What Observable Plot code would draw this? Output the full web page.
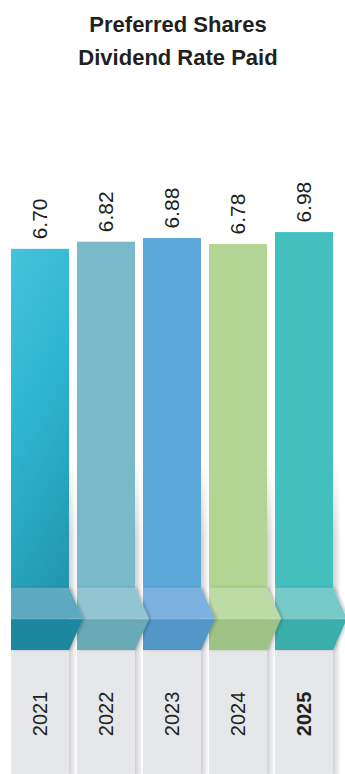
<!DOCTYPE html>
<html>
<head>
<meta charset="utf-8">
<script src="https://cdn.jsdelivr.net/npm/d3@7"></script>
<script src="https://cdn.jsdelivr.net/npm/@observablehq/plot@0.6"></script>
<style>
  body { margin: 0; background: #fff; width: 345px; overflow: hidden; }
  #title {
    font: bold 22px "Liberation Sans", Arial, sans-serif;
    color: #231f20;
    line-height: 33px;
    text-align: center;
    padding: 8px 0 0 11px;
  }
  #chart svg { display: block; }
</style>
</head>
<body>
<div id="title">Preferred Shares<br>Dividend Rate Paid</div>
<div id="chart"></div>
<script>
// Dividend rate paid on preferred shares, by year (%)
const years = ["2021", "2022", "2023", "2024", "2025"];
const rates = [6.70, 6.82, 6.88, 6.78, 6.98];
const highlightYear = "2025";

// Per-year palette: bar face, upper fold, lower fold
const barColors = ["url(#bar2021)", "#7ab9c9", "#5ca8da", "#b2d593", "#43c0bd"];
const foldLight = ["#5ba9c0", "#92c5d2", "#7bb1e0", "#bddba4", "#75c9c6"];
const foldDark  = ["#1f879e", "#6aa9b6", "#5297c9", "#9ec284", "#3aafac"];

const rows = years.map((year, i) => ({year, rate: rates[i], i}));

// Decorative geometry, in rate units below/above the baseline
const LABEL_DEPTH = 2.07;   // year panels under the bars
const FOLD_MID = 0.52;      // chevron point
const FOLD_TOP = 1.04;      // top of the folded ribbon
const SHADOW_TOP = 3.2;     // where the cast shadow beside each bar begins
const TIP = 14;             // chevron reach past the bar edge, px

const font = '"Liberation Sans", Arial, sans-serif';
const ink = "#231f20";

const plot = Plot.plot({
  width: 345,
  height: 700,
  marginTop: 0,
  marginBottom: 124,
  marginLeft: 11,
  marginRight: 9.6,
  x: {domain: years, paddingInner: 0.115, paddingOuter: 0, align: 0, axis: null},
  y: {domain: [0, 9.62], axis: null},
  color: {type: "identity"},
  style: {fontFamily: font, color: ink, background: "transparent", overflow: "visible"},
  marks: [
    Plot.barY(rows, {x: "year", y1: () => -LABEL_DEPTH, y2: () => 0, fill: "#e6e7e9"}),
    Plot.barY(rows, {x: "year", y: "rate", fill: (d) => barColors[d.i]}),
    Plot.text(rows, {
      x: "year", y: "rate", text: (d) => d.rate.toFixed(2),
      rotate: -90, textAnchor: "start", lineAnchor: "middle",
      dy: -10, fontSize: 21, fill: ink
    }),
    Plot.text(rows, {
      filter: (d) => d.year !== highlightYear,
      x: "year", y: () => -LABEL_DEPTH / 2, text: "year",
      rotate: -90, textAnchor: "middle", lineAnchor: "middle",
      dy: 1.5, fontSize: 20, fill: ink
    }),
    Plot.text(rows, {
      filter: (d) => d.year === highlightYear,
      x: "year", y: () => -LABEL_DEPTH / 2, text: "year",
      rotate: -90, textAnchor: "middle", lineAnchor: "middle",
      dy: 1.5, fontSize: 20, fontWeight: "bold", fill: ink
    })
  ]
});

document.getElementById("chart").append(plot);

// Ribbon folds and shadows, placed with the plot's own scales
const svg = d3.select(plot);
const xs = plot.scale("x");
const ys = plot.scale("y");
const bw = xs.bandwidth;
const step = xs.step ?? (xs.apply(years[1]) - xs.apply(years[0]));
const X = (year) => xs.apply(year);
const Y = (v) => ys.apply(v);

const shadows = svg.insert("g", ":first-child");
const defs = svg.insert("defs", ":first-child");

const g2021 = defs.append("linearGradient").attr("id", "bar2021")
  .attr("x1", 0).attr("y1", 0).attr("x2", 0.25).attr("y2", 1);
g2021.append("stop").attr("offset", 0).attr("stop-color", "#45c3da");
g2021.append("stop").attr("offset", 0.45).attr("stop-color", "#2db6d0");
g2021.append("stop").attr("offset", 1).attr("stop-color", "#2396af");

const sh = defs.append("linearGradient").attr("id", "gapShade")
  .attr("x1", 0).attr("y1", 0).attr("x2", 1).attr("y2", 0);
sh.append("stop").attr("offset", 0).attr("stop-color", "#cfd0d3");
sh.append("stop").attr("offset", 1).attr("stop-color", "#ffffff");

const fade = defs.append("linearGradient").attr("id", "gapFade")
  .attr("x1", 0).attr("y1", 0).attr("x2", 0).attr("y2", 1);
fade.append("stop").attr("offset", 0).attr("stop-color", "#000");
fade.append("stop").attr("offset", 0.25).attr("stop-color", "#fff");
fade.append("stop").attr("offset", 1).attr("stop-color", "#fff");
const mask = defs.append("mask").attr("id", "gapMask")
  .attr("maskContentUnits", "objectBoundingBox");
mask.append("rect").attr("width", 1).attr("height", 1).attr("fill", "url(#gapFade)");

const drop = defs.append("filter").attr("id", "foldShadow")
  .attr("x", "-20%").attr("y", "-20%").attr("width", "140%").attr("height", "140%");
drop.append("feDropShadow").attr("dx", 2).attr("dy", 0)
  .attr("stdDeviation", 1.6).attr("flood-color", "#000").attr("flood-opacity", 0.22);

rows.forEach((d) => {
  const xr = X(d.year) + bw;
  shadows.append("rect")
    .attr("x", xr).attr("width", step - bw)
    .attr("y", Y(SHADOW_TOP)).attr("height", Y(-LABEL_DEPTH) - Y(SHADOW_TOP))
    .attr("fill", "url(#gapShade)")
    .attr("mask", "url(#gapMask)");
});

const folds = svg.append("g");
rows.slice().reverse().forEach((d) => {
  const xl = X(d.year), xr = xl + bw, tip = xr + TIP;
  const g = folds.append("g").attr("filter", "url(#foldShadow)");
  g.append("path")
    .attr("d", `M${xl},${Y(FOLD_TOP)}L${xr},${Y(FOLD_TOP)}L${tip},${Y(FOLD_MID)}L${xl},${Y(FOLD_MID)}Z`)
    .attr("fill", foldLight[d.i]);
  g.append("path")
    .attr("d", `M${xl},${Y(FOLD_MID)}L${tip},${Y(FOLD_MID)}L${xr},${Y(0)}L${xl},${Y(0)}Z`)
    .attr("fill", foldDark[d.i]);
  g.append("path")
    .attr("d", `M${xl},${Y(FOLD_MID)}L${tip},${Y(FOLD_MID)}`)
    .attr("stroke", "rgba(255,255,255,0.3)").attr("stroke-width", 1);
});
</script>
</body>
</html>
